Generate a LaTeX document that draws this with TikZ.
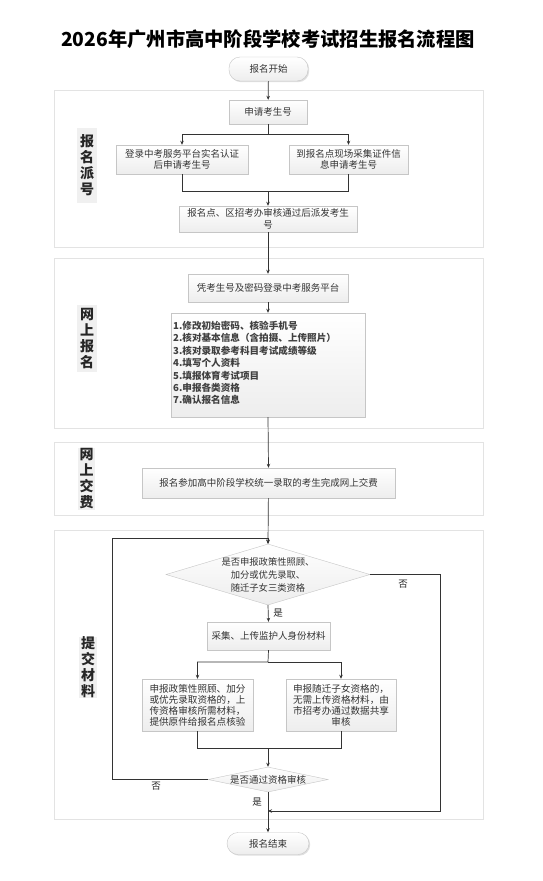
\documentclass[tikz,border=0pt]{standalone}
\usepackage{fontspec}
\setmainfont{Noto Sans CJK SC}
\usetikzlibrary{shapes.geometric,shadows,arrows.meta}
\tikzset{
  sect/.style={draw=gray!22, line width=0.9pt, inner sep=0pt},
  lab/.style={fill=gray!12, inner sep=0pt, align=center, font=\fontsize{14}{16}\selectfont\bfseries, text=black!85},
  fbox/.style={draw=gray!45, top color=white, bottom color=gray!14, drop shadow={opacity=0.25, shadow xshift=1.2pt, shadow yshift=-1.2pt}, inner sep=0pt, align=center, font=\fontsize{9.5}{11.5}\selectfont, text=black!80},
  term/.style={fbox, rounded corners=11pt},
  dec/.style={diamond, draw=gray!45, top color=white, bottom color=gray!14, inner sep=0pt},
  conn/.style={draw=gray!40!black, line width=0.7pt},
  arr/.style={conn, -{Stealth[length=4pt,width=3.5pt]}},
  yn/.style={font=\fontsize{9.5}{11}\selectfont, text=black!85, inner sep=0pt}
}
\begin{document}
\begin{tikzpicture}[x=1pt,y=-1pt]
\useasboundingbox (0,0) rectangle (543,881);
\fill[white] (0,0) rectangle (543,881);
% title
\node[font=\fontsize{19.3}{22}\selectfont\bfseries, text=black] (title) at (268,39) {2026年广州市高中阶段学校考试招生报名流程图};
% sections
\node[sect, minimum width=429, minimum height=157] (s1) at (268.5,168.5) {};
\node[sect, minimum width=429, minimum height=170] (s2) at (268.5,343) {};
\node[sect, minimum width=429, minimum height=73] (s3) at (268.5,478.5) {};
\node[sect, minimum width=429, minimum height=289] (s4) at (268.5,674.5) {};
% labels
\node[lab, minimum width=20, minimum height=75] (l1) at (87,165.5) {报\\名\\派\\号};
\node[lab, minimum width=20, minimum height=67] (l2) at (87,338.5) {网\\上\\报\\名};
\node[lab, minimum width=17, minimum height=62] (l3) at (86.5,479) {网\\上\\交\\费};
\node[lab, minimum width=18, minimum height=61] (l4) at (88,667.5) {提\\交\\材\\料};
% nodes
\node[term, minimum width=79, minimum height=24] (start) at (268.5,69) {报名开始};
\node[fbox, minimum width=78, minimum height=24] (apply) at (268,112) {申请考生号};
\node[fbox, minimum width=132, minimum height=29] (online) at (182,159.5) {登录中考服务平台实名认证\\后申请考生号};
\node[fbox, minimum width=119, minimum height=29] (onsite) at (348.5,159.5) {到报名点现场采集证件信\\息申请考生号};
\node[fbox, minimum width=178, minimum height=26] (assign) at (268,219) {报名点、区招考办审核通过后派发考生\\号};
\node[fbox, minimum width=160, minimum height=28] (login) at (268,288) {凭考生号及密码登录中考服务平台};
\node[fbox, minimum width=194, minimum height=104] (list) at (268,365) {};
\node[anchor=north west, align=left, inner sep=0pt, font=\fontsize{9.6}{12.4}\selectfont\bfseries, text=black!75] (listtxt) at (173,321) {1.修改初始密码、核验手机号\\2.核对基本信息（含拍摄、上传照片）\\3.核对录取参考科目考试成绩等级\\4.填写个人资料\\5.填报体育考试项目\\6.申报各类资格\\7.确认报名信息};
\node[fbox, minimum width=253, minimum height=30] (fee) at (268.5,483) {报名参加高中阶段学校统一录取的考生完成网上交费};
\node[dec, minimum width=204, minimum height=61] (d1) at (268,574.5) {};
\node[align=center, inner sep=0pt, font=\fontsize{9.3}{13}\selectfont, text=black!80] (d1t) at (268,575) {是否申报政策性照顾、\\加分或优先录取、\\随迁子女三类资格};
\node[fbox, minimum width=123, minimum height=28] (collect) at (268.5,636) {采集、上传监护人身份材料};
\node[fbox, minimum width=111, minimum height=52, font=\fontsize{9.6}{10.9}\selectfont] (policy) at (197.5,705) {申报政策性照顾、加分\\或优先录取资格的，上\\传资格审核所需材料，\\提供原件给报名点核验};
\node[fbox, minimum width=110, minimum height=52, font=\fontsize{9.6}{10.9}\selectfont] (migr) at (341,705) {申报随迁子女资格的，\\无需上传资格材料，由\\市招考办通过数据共享\\审核};
\node[dec, minimum width=120, minimum height=25] (d2) at (268,779.5) {};
\node[inner sep=0pt, font=\fontsize{9.5}{11}\selectfont, text=black!80] (d2t) at (268,780) {是否通过资格审核};
\node[term, minimum width=82, minimum height=22] (end) at (268,843.5) {报名结束};
% connectors
\draw[arr] (start) -- (apply);
\draw[arr] (apply.south) -- (268,134) -| (online.north);
\draw[arr] (268,134) -| (onsite.north);
\draw[arr] (online.south) |- (268,191) -- (assign.north);
\draw[conn] (onsite.south) |- (268,191);
\draw[arr] (assign) -- (login);
\draw[arr] (login) -- (list);
\draw[arr] (list.south) -- (fee.north);
\draw[arr] (fee) -- (d1.north);
\draw[arr] (d1.south) -- (collect.north);
\node[yn] (yes1) at (278,613) {是};
\draw[arr] (collect.south) -- (268,662) -| (policy.north);
\draw[arr] (268,662) -| (migr.north);
\draw[conn] (policy.south) |- (268,748);
\draw[conn] (migr.south) |- (268,748);
\draw[arr] (268,748) -- (d2.north);
\draw[arr] (d2.west) -| (112,538) -| (d1.north);
\node[yn] (no2) at (156,786) {否};
\draw[arr] (d1.east) -| (440,811) -- (268,811);
\node[yn] (no1) at (403,584) {否};
\draw[arr] (d2.south) -- (end.north);
\node[yn] (yes2) at (257,802) {是};
\end{tikzpicture}
\end{document}
